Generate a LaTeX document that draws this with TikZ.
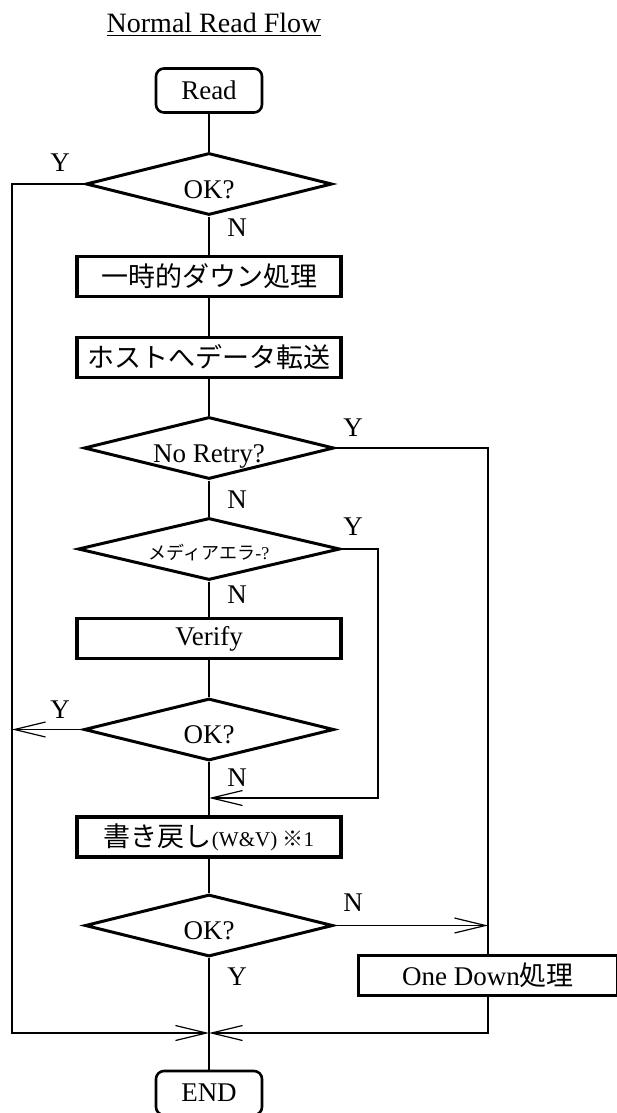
\documentclass[tikz,border=0pt]{standalone}
\usepackage{fontspec}
\setmainfont{Liberation Serif}
\newfontfamily\jp{Noto Sans CJK JP}
\usetikzlibrary{shapes.geometric,arrows.meta}

\begin{document}
\begin{tikzpicture}[x=0.5pt, y=-0.5pt, >={Straight Barb[length=15.5pt,width=7.5pt]},
  every node/.style={font=\fontsize{13.5}{16}\selectfont},
  term/.style={draw, line width=1.3pt, rounded corners=4pt, minimum width=53pt, minimum height=22pt},
  proc/.style={draw, line width=1.6pt, inner sep=0pt, minimum width=132pt, minimum height=20pt},
  cond/.style={draw, diamond, aspect=4, line width=1.5pt, inner sep=0pt, minimum height=31pt,
    text height=14pt, text depth=0pt},
  line/.style={line width=0.6pt}]

\useasboundingbox (0,0) rectangle (616,1113);

\node [font=\fontsize{14}{17}\selectfont] (title) at (214,25) {\underline{Normal Read Flow}};

% main column
\node [term] (read) at (209,90.5) {Read};
\node [cond, minimum width=123pt] (ok1) at (209,184) {OK?};
\node [proc] (down) at (209,276.5) {\jp 一時的ダウン処理};
\node [proc] (host) at (209,357.5) {\jp ホストへデータ転送};
\node [cond, minimum width=125pt] (retry) at (209,448) {No Retry?};
\node [cond, minimum width=131pt, font=\fontsize{9}{11}\selectfont, text height=10pt] (media) at (209,549) {{\jp メディアエラ}-?};
\node [proc] (verify) at (209,638.5) {Verify};
\node [cond, minimum width=125pt] (ok2) at (209,729.5) {OK?};
\node [proc] (wv) at (209,837) {{\jp 書き戻し}{\fontsize{10.5}{12}\selectfont(W\&V) {\jp ※}1}};
\node [cond, minimum width=124pt] (ok3) at (209,925.5) {OK?};
\node [term] (end) at (209,1093) {END};

\node [proc, minimum width=129.5pt] (onedown) at (488,975.5) {One Down{\jp 処理}};

\coordinate (merge) at (209,1033);
\coordinate (leftbus) at (12,1033);
\coordinate (loop) at (378,798);

\foreach \t/\x/\y [count=\i] in {Y/60/163, N/237/228, Y/353/428, N/237/500, Y/353/527,
    N/237/595, Y/60/710, N/237/778, N/353/903, Y/237/977}
  \node (lab-\i) at (\x,\y) {\t};

\foreach \a/\b in {read/ok1, ok1/down, down/host, host/retry, retry/media,
    media/verify, verify/ok2, ok2/wv, wv/ok3, ok3/end}
  \draw [line] (\a) -- (\b);

\draw [line, ->] (ok1.west) -| (leftbus) -- (merge);
\draw [line, ->] (ok2.west) -- (ok2.west -| leftbus);
\draw [line, ->] (media.east) -| (loop) -- (loop -| ok2);
\draw [line] (retry.east) -| (onedown.north);
\draw [line, ->] (ok3.east) -- (ok3.east -| onedown);
\draw [line, ->] (onedown.south) |- (merge);

\end{tikzpicture}
\end{document}
